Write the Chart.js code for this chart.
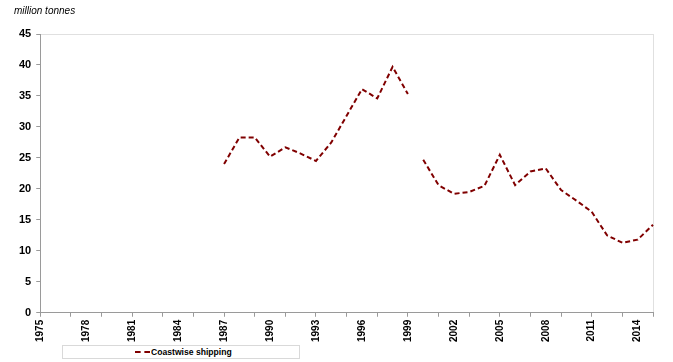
<!DOCTYPE html>
<html>
<head>
<meta charset="utf-8">
<script src="https://cdn.jsdelivr.net/npm/chart.js@4"></script>
<style>
  html, body { margin: 0; padding: 0; background: #fff; }
  #wrap { position: relative; width: 673px; height: 362px; }
  #legend {
    position: absolute; left: 62px; top: 345px; width: 238px; height: 14px;
    border: 1px solid #d9d9d9; background: #fff;
    font: bold 8.6px "Liberation Sans", Arial, sans-serif; color: #000;
    line-height: 12px; box-sizing: border-box;
  }
  #legend .sample {
    position: absolute; left: 72px; top: 5px; width: 15px; height: 0;
    border-top: 2px dashed #800000;
  }
  #legend .txt { position: absolute; left: 88px; top: 0; }
</style>
</head>
<body>
<div id="wrap">
  <canvas id="chart" width="673" height="362"></canvas>
  <div id="legend"><span class="sample"></span><span class="txt">Coastwise shipping</span></div>
</div>
<script>
const years = [];
for (let y = 1975; y <= 2015; y++) years.push(String(y));

// values 1975-1986 are missing
const coastwise = [
  null, null, null, null, null, null, null, null, null, null, null, null,
  24.0, 28.3, 28.3, 25.2, 26.7, 25.7, 24.5, 27.5, 31.8, 36.1, 34.6, 39.7, 35.3,
  24.7, 20.6, 19.2, 19.5, 20.5, 25.5, 20.6, 22.8, 23.3, 19.8, 18.1, 16.3, 12.5, 11.3, 11.8, 14.2
];
const breakAfter = '1999';
const yTicks = [0, 5, 10, 15, 20, 25, 30, 35, 40, 45];

const breakIdx = years.indexOf(breakAfter);

const ctx = document.getElementById('chart').getContext('2d');
const chart = new Chart(ctx, {
  type: 'line',
  data: {
    labels: years,
    datasets: [{
      label: 'Coastwise shipping',
      data: coastwise,
      borderColor: '#800000',
      borderWidth: 2,
      borderDash: [5, 3],
      pointRadius: 0,
      tension: 0,
      spanGaps: false,
      segment: {
        borderColor: c => c.p0DataIndex === breakIdx ? 'rgba(0,0,0,0)' : undefined
      }
    }]
  },
  options: {
    responsive: false,
    animation: false,
    layout: { padding: { left: 14, right: 20, top: 0, bottom: 17 } },
    plugins: {
      legend: { display: false },
      tooltip: { enabled: false },
      title: {
        display: true,
        text: 'million tonnes',
        align: 'start',
        color: '#000',
        font: { family: 'Liberation Sans', size: 10, style: 'italic', weight: 'normal' },
        padding: { top: 5, bottom: 17 }
      }
    },
    scales: {
      x: {
        type: 'category',
        offset: false,
        border: { color: '#9a9a9a', width: 1 },
        grid: {
          drawOnChartArea: true,
          color: c => c.index === years.length - 1 ? '#e0e0e0' : 'rgba(0,0,0,0)',
          tickColor: c => c.index % 2 === 0 ? '#9a9a9a' : 'rgba(0,0,0,0)',
          tickLength: 4
        },
        ticks: {
          autoSkip: false,
          maxRotation: 90,
          minRotation: 90,
          color: '#000',
          padding: 3,
          font: { family: 'Liberation Sans', size: 10, weight: 'bold' },
          callback: function (v, i) { return i % 3 === 0 ? this.getLabelForValue(v) : ''; }
        }
      },
      y: {
        min: 0,
        max: 45,
        afterBuildTicks: axis => { axis.ticks = yTicks.map(v => ({ value: v })); },
        border: { color: '#9a9a9a', width: 1 },
        grid: {
          color: c => c.tick && c.tick.value === 45 ? '#e0e0e0' : 'rgba(0,0,0,0)',
          tickColor: '#9a9a9a',
          tickLength: 4
        },
        ticks: {
          color: '#000',
          padding: 5,
          font: { family: 'Liberation Sans', size: 11, weight: 'bold' }
        }
      }
    }
  }
});
</script>
</body>
</html>
